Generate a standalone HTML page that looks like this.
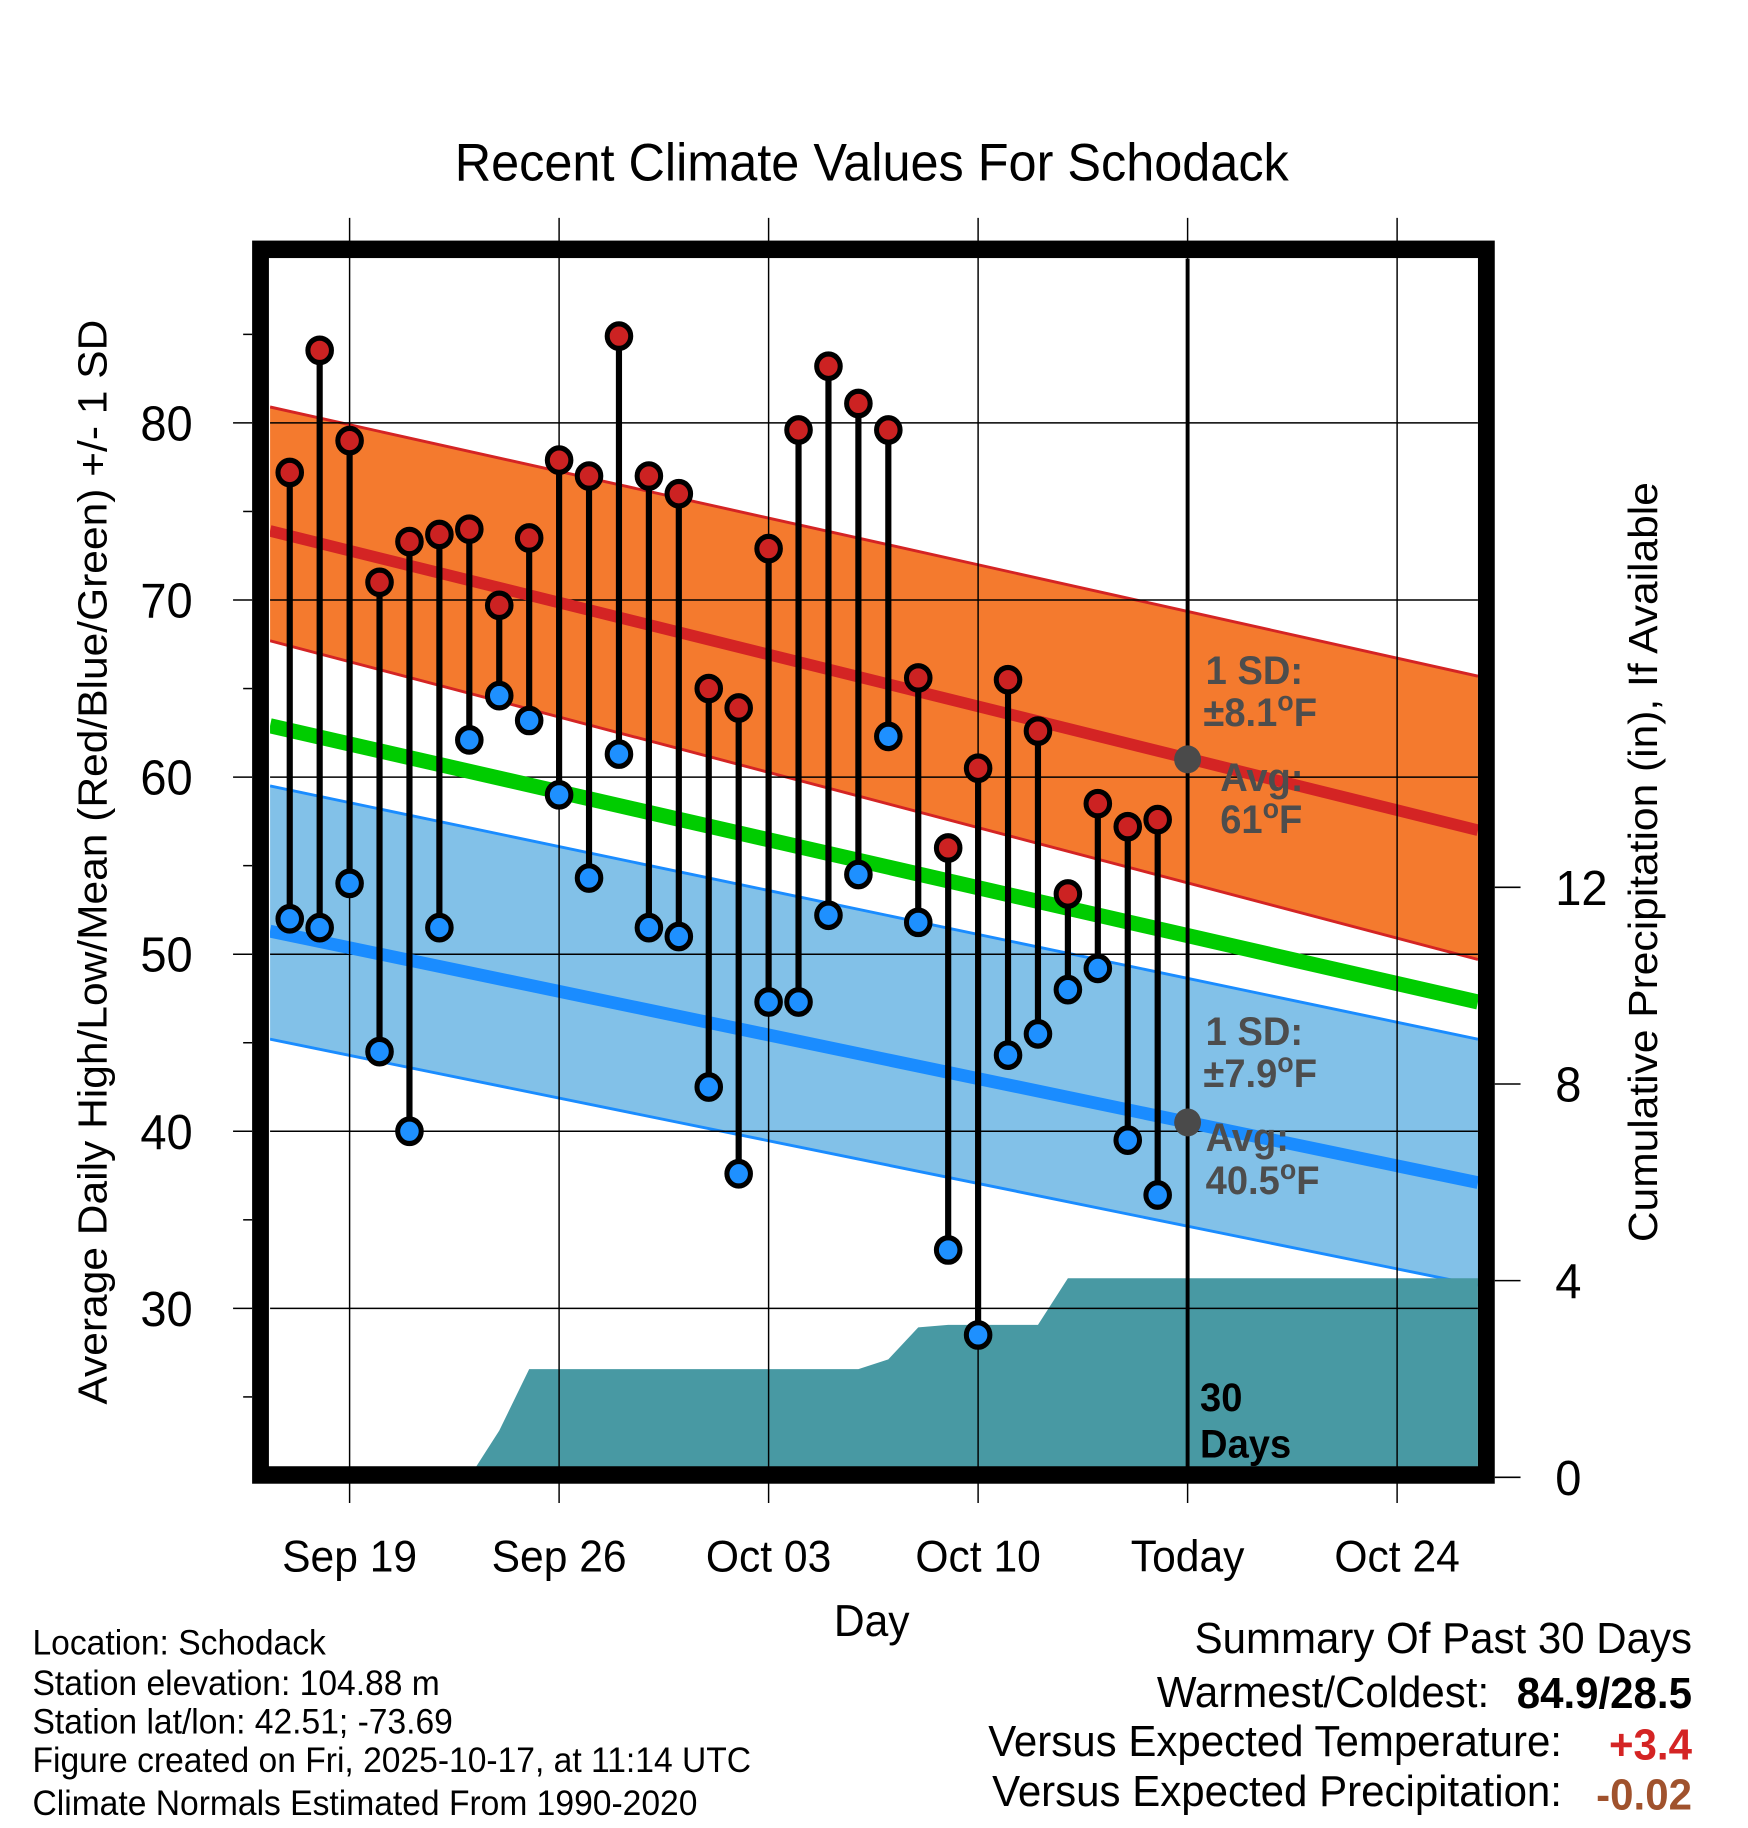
<!DOCTYPE html>
<html><head><meta charset="utf-8"><style>
html,body{margin:0;padding:0;background:#fff;}
svg{display:block;font-family:"Liberation Sans",Arial,sans-serif;}
</style></head><body>
<svg id="chart" width="1748" height="1828" viewBox="0 0 1560 1569" preserveAspectRatio="none" xmlns="http://www.w3.org/2000/svg"></svg>
<script>
// ---- data ----
const dayLabels = ["Sep 19","Sep 26","Oct 03","Oct 10","Today","Oct 24"];
const dayTicks = [0,7,14,21,28,35];
const highs = [77.2,84.1,79.0,71.0,73.3,73.7,74.0,69.7,73.5,77.9,77.0,84.9,77.0,76.0,65.0,63.9,72.9,79.6,83.2,81.1,79.6,65.6,56.0,60.5,65.5,62.6,53.4,58.5,57.2,57.6];
const lows = [52.0,51.5,54.0,44.5,40.0,51.5,62.1,64.6,63.2,59.0,54.3,61.3,51.5,51.0,42.5,37.6,47.3,47.3,52.2,54.5,62.3,51.8,33.3,28.5,44.3,45.5,48.0,49.2,39.5,36.4];
const precipCum = [0,0,0,0,0,0,0,0.95,2.2,2.2,2.2,2.2,2.2,2.2,2.2,2.2,2.2,2.2,2.2,2.2,2.4,3.05,3.1,3.1,3.1,3.1,4.05,4.05,4.05,4.05];
const normHighEnds = [73.9,57.0];
const normHighUpper = [80.9,65.7];
const normHighLower = [67.7,49.7];
const normMeanEnds = [62.9,47.3];
const normLowEnds = [51.3,37.1];
const normLowUpper = [59.5,45.2];
const normLowLower = [45.2,31.3];
const todayAvg = [61.0,40.5];
const yTicks = [30,40,50,60,70,80];
const yMinor = [25,35,45,55,65,75,85];
const precipTicks = [0,4,8,12];

// ---- axes ----
const X0=241,X1=1319,Y0=222,Y1=1259;
const xs=d=>312+(d)*26.71;
const ys=v=>363+(80-v)*15.2;
const yp=p=>1268-p*42.2;
const svg=document.getElementById('chart');
const NS='http://www.w3.org/2000/svg';
function el(tag,attrs,parent){const e=document.createElementNS(NS,tag);for(const k in attrs)e.setAttribute(k,attrs[k]);(parent||svg).appendChild(e);return e;}
function txt(s,attrs){const t=el('text',attrs);t.textContent=s;return t;}

const clip=el('clipPath',{id:'pc'});el('rect',{x:X0,y:Y0,width:X1-X0,height:Y1-Y0},clip);
const g=el('g',{'clip-path':'url(#pc)'});


function band(up,lo,fill,stroke,name){
  const p=el('polygon',{points:`${X0},${ys(up[0])} ${X1},${ys(up[1])} ${X1},${ys(lo[1])} ${X0},${ys(lo[0])}`,fill:fill},g);
  
  [up,lo].forEach(a=>el('line',{x1:X0,y1:ys(a[0]),x2:X1,y2:ys(a[1]),stroke:stroke,'stroke-width':2.5},g));
}
band(normHighUpper,normHighLower,'#f47a2e','#d42424','high-sd-band');
band(normLowUpper,normLowLower,'#82c1e8','#1a8cff','low-sd-band');
// precip area
let pts=`${X0},${Y1} `;
precipCum.forEach((p,i)=>{pts+=`${xs(i-2)},${yp(p)} `;});
pts+=`${X1},${yp(precipCum[precipCum.length-1])} ${X1},${Y1}`;
const pa=el('polygon',{points:pts,fill:'#4899a3'},g);

// grid
yTicks.forEach(v=>el('line',{x1:X0,y1:ys(v),x2:X1,y2:ys(v),stroke:'#000','stroke-width':1.3},g));
dayTicks.forEach(d=>el('line',{x1:xs(d),y1:187,x2:xs(d),y2:1290,stroke:'#000','stroke-width':1.3}));
// normal lines
function nline(a,c,w,name){const l=el('line',{x1:X0,y1:ys(a[0]),x2:X1,y2:ys(a[1]),stroke:c,'stroke-width':w},g);}
nline(normHighEnds,'#d42424',10,'normal-high-line');
nline(normMeanEnds,'#00cc00',13,'normal-mean-line');
nline(normLowEnds,'#1a8cff',11,'normal-low-line');
// today line
el('line',{x1:xs(28),y1:Y0,x2:xs(28),y2:Y1,stroke:'#000','stroke-width':3.5});
todayAvg.forEach(v=>{
  const c=el('circle',{cx:xs(28),cy:ys(v),r:12,fill:'#4a4a4a'});
  
  
});
// data
highs.forEach((h,i)=>{
  const x=xs(i-2);
  const s=el('line',{x1:x,y1:ys(h),x2:x,y2:ys(lows[i]),stroke:'#000','stroke-width':5.5});
  
  
});
highs.forEach((h,i)=>{
  const x=xs(i-2);
  const c1=el('circle',{cx:x,cy:ys(h),r:10.5,fill:'#cc2222',stroke:'#000','stroke-width':4.5});
  
  
  const c2=el('circle',{cx:x,cy:ys(lows[i]),r:10.5,fill:'#1e90ff',stroke:'#000','stroke-width':4.5});
  
  
});
// frame
el('rect',{x:232.5,y:214,width:1094,height:1052,fill:'none',stroke:'#000','stroke-width':15});
// ticks/labels
yTicks.forEach(v=>{el('line',{x1:208,y1:ys(v),x2:225,y2:ys(v),stroke:'#000','stroke-width':1.3});
  const t=txt(v,{x:172,y:ys(v)+15,'font-size':42,'text-anchor':'end'});});
yMinor.forEach(v=>el('line',{x1:217,y1:ys(v),x2:225,y2:ys(v),stroke:'#000','stroke-width':1.3}));
precipTicks.forEach(p=>{el('line',{x1:1334,y1:yp(p),x2:1357,y2:yp(p),stroke:'#000','stroke-width':1.3});
  const t=txt(p,{x:1388,y:yp(p)+15,'font-size':42});});
dayLabels.forEach((s,i)=>{const t=txt(s,{x:xs(dayTicks[i]),y:1349,'font-size':38,'text-anchor':'middle'});});
</script>
<script>
// static text
(function(){
const svg=document.getElementById('chart');const NS='http://www.w3.org/2000/svg';
function t(s,a,name){const e=document.createElementNS(NS,'text');for(const k in a)e.setAttribute(k,a[k]);e.innerHTML=s;svg.appendChild(e);return e;}
t('Recent Climate Values For Schodack',{x:778,y:155,'font-size':45,'text-anchor':'middle'},'chart-title');
t('Day',{x:778,y:1404,'font-size':38,'text-anchor':'middle'},'x-axis-title');
t('Average Daily High/Low/Mean (Red/Blue/Green) +/- 1 SD',{x:0,y:0,'font-size':36.5,'text-anchor':'middle',transform:'translate(95,740) rotate(-90)'},'y-axis-title');
t('Cumulative Precipitation (in), If Available',{x:0,y:0,'font-size':36.5,'text-anchor':'middle',transform:'translate(1479,740) rotate(-90)'},'precip-axis-title');
const gs={fill:'#4d4d4d','font-size':34,'font-weight':'bold'};
t('1 SD:',Object.assign({x:1076,y:587},gs),'high-sd-label');
t('±8.1<tspan dy="-13" font-size="24">o</tspan><tspan dy="13">F</tspan>',Object.assign({x:1074,y:623},gs),'high-sd-value');
t('Avg:',Object.assign({x:1089,y:679},gs),'high-avg-label');
t('61<tspan dy="-13" font-size="24">o</tspan><tspan dy="13">F</tspan>',Object.assign({x:1089,y:715},gs),'high-avg-value');
t('1 SD:',Object.assign({x:1076,y:897},gs),'low-sd-label');
t('±7.9<tspan dy="-13" font-size="24">o</tspan><tspan dy="13">F</tspan>',Object.assign({x:1074,y:933},gs),'low-sd-value');
t('Avg:',Object.assign({x:1076,y:988},gs),'low-avg-label');
t('40.5<tspan dy="-13" font-size="24">o</tspan><tspan dy="13">F</tspan>',Object.assign({x:1076,y:1025},gs),'low-avg-value');
t('30',{x:1071,y:1211,'font-size':34,'font-weight':'bold'},'days-count');
t('Days',{x:1071,y:1251,'font-size':34,'font-weight':'bold'},'days-label');
const ls=['Location: Schodack','Station elevation: 104.88 m','Station lat/lon: 42.51; -73.69','Figure created on Fri, 2025-10-17, at 11:14 UTC','Climate Normals Estimated From 1990-2020'];
const ly=[1420,1455,1488,1521,1558];
ls.forEach((s,i)=>t(s,{x:29,y:ly[i],'font-size':30},'station-info-line'));
t('Summary Of Past 30 Days',{x:1510,y:1419,'font-size':37.5,'text-anchor':'end'},'summary-title');
t('Warmest/Coldest:',{x:1329,y:1465,'font-size':37.5,'text-anchor':'end'},'warmest-coldest-label');
t('84.9/28.5',{x:1510,y:1466,'font-size':37.5,'font-weight':'bold','text-anchor':'end'},'warmest-coldest-value');
t('Versus Expected Temperature:',{x:1394,y:1507,'font-size':37.5,'text-anchor':'end'},'temp-departure-label');
t('+3.4',{x:1510,y:1510,'font-size':37.5,'font-weight':'bold','text-anchor':'end',fill:'#d42424'},'temp-departure-value');
t('Versus Expected Precipitation:',{x:1394,y:1550,'font-size':37.5,'text-anchor':'end'},'precip-departure-label');
t('-0.02',{x:1510,y:1553,'font-size':37.5,'font-weight':'bold','text-anchor':'end',fill:'#a0522d'},'precip-departure-value');
})();
</script>
</body></html>
